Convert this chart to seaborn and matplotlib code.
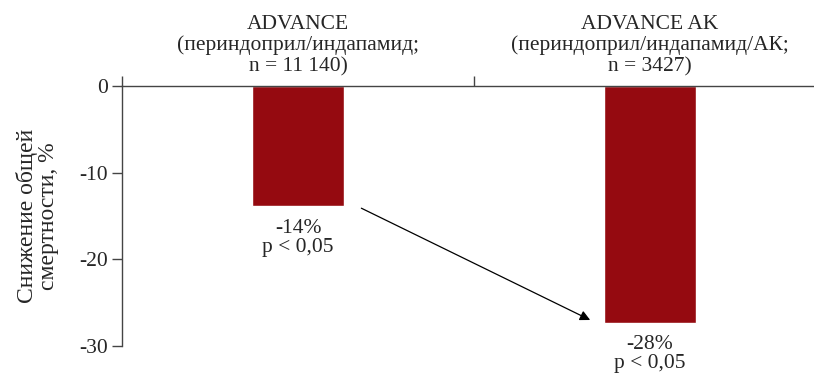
import numpy as np
import pandas as pd
import matplotlib
matplotlib.use('Agg')
import matplotlib.pyplot as plt
import seaborn as sns

# Chart data
categories = ['ADVANCE\n(периндоприл/индапамид;\nn = 11 140)',
              'ADVANCE AK\n(периндоприл/индапамид/АК;\nn = 3427)']
values = [-13.9, -27.3]
bar_labels = ['-14%\np < 0,05', '-28%\np < 0,05']
y_ticks = [0, -10, -20, -30]

sns.set_style('white')
plt.rcParams['font.family'] = ['Liberation Serif', 'DejaVu Serif']

df = pd.DataFrame({'study': categories, 'value': values})

fig = plt.figure(figsize=(8.14, 3.76), dpi=100)
ax = fig.add_axes([122 / 814, 30 / 376, 704 / 814, 260 / 376])

sns.barplot(data=df, x='study', y='value', color='#950a10', saturation=1,
            width=0.26, ax=ax)

ax.set_xlim(-0.5, 1.5)
ax.set_ylim(-30, 0)

# spines: only left and the zero line on top
for side in ['right', 'bottom']:
    ax.spines[side].set_visible(False)
for side in ['left', 'top']:
    ax.spines[side].set_color('#444444')
    ax.spines[side].set_linewidth(1.0)

ax.set_yticks(y_ticks)
ax.set_yticklabels([str(t) for t in y_ticks])
ax.tick_params(axis='y', direction='out', length=7, width=1, color='#444444',
               left=True, pad=3, labelsize=15.5)

# x axis on top: boundary ticks as major, category labels as minor
ax.xaxis.tick_top()
ax.set_xticks([-0.5, 0.5, 1.5])
ax.set_xticklabels(['', '', ''])
ax.set_xticks(range(len(categories)), minor=True)
ax.set_xticklabels(categories, minor=True, linespacing=1.13)
ax.tick_params(axis='x', which='major', direction='out', length=7, width=1,
               color='#444444', top=True, bottom=False)
ax.tick_params(axis='x', which='minor', length=0, top=True, bottom=False,
               pad=7, labelsize=15.5)
ax.set_xlabel('')

ax.set_ylabel('Снижение общей\nсмертности, %', fontsize=17, linespacing=0.95)
ax.yaxis.set_label_coords(-0.09, 0.5)

# value labels under bars
for i, (v, lab) in enumerate(zip(values, bar_labels)):
    ax.annotate(lab, xy=(i, v), xytext=(0, -9), textcoords='offset points',
                ha='center', va='top', fontsize=15.5, linespacing=1.0)

# arrow between bars
half = 0.13
ax.annotate('', xy=(1 - half - 0.04, values[1] + 0.3),
            xytext=(0 + half + 0.05, values[0] - 0.2),
            arrowprops=dict(arrowstyle='-|>', color='black', lw=0.9,
                            mutation_scale=15, shrinkA=0, shrinkB=0))

fig.savefig('out.png', dpi=100)
